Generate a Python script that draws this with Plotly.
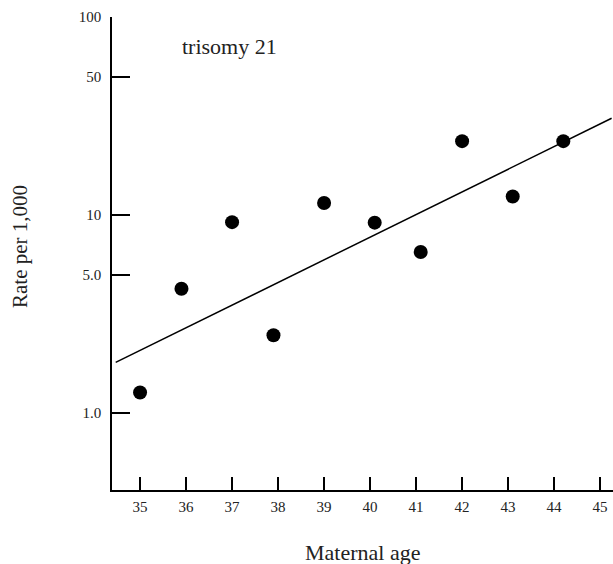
import plotly.graph_objects as go

# Data
age = [35.0, 35.9, 37.0, 37.9, 39.0, 40.1, 41.1, 42.0, 43.1, 44.2]
rate = [1.27, 4.24, 9.2, 2.47, 11.5, 9.15, 6.5, 23.6, 12.4, 23.6]
fit_age = [34.47, 45.25]
fit_rate = [1.80, 30.8]
x_ticks = [35, 36, 37, 38, 39, 40, 41, 42, 43, 44, 45]
y_ticks = [1, 5, 10, 50, 100]
y_tick_text = ["1.0", "5.0", "10", "50", "100"]

FONT = "Liberation Serif, Times New Roman, serif"

fig = go.Figure()
fig.add_trace(go.Scatter(x=fit_age, y=fit_rate, mode="lines",
                         line=dict(color="black", width=1.5), showlegend=False,
                         cliponaxis=False))
fig.add_trace(go.Scatter(x=age, y=rate, mode="markers",
                         marker=dict(color="black", size=14), showlegend=False))

fig.update_layout(
    width=613, height=564,
    margin=dict(l=112, r=0, t=17, b=74),
    paper_bgcolor="white", plot_bgcolor="white",
    font=dict(family=FONT, color="black"),
    xaxis=dict(range=[34.39, 45.28], tickvals=x_ticks, ticks="inside", ticklen=13,
               tickwidth=1.5, tickcolor="black", showline=True, linecolor="black",
               linewidth=1.5, showgrid=False, zeroline=False, ticklabelstandoff=2,
               tickfont=dict(size=15, family=FONT, color="#222")),
    yaxis=dict(type="log", range=[-0.389, 2.0], tickvals=y_ticks, ticktext=y_tick_text,
               ticks="inside", ticklen=18, tickwidth=1.5, tickcolor="black",
               showline=True, linecolor="black", linewidth=1.5, showgrid=False,
               zeroline=False, ticklabelstandoff=6,
               tickfont=dict(size=15, family=FONT, color="#222")),
    annotations=[
        dict(text="trisomy 21", xref="paper", yref="paper", x=(180 - 112) / 501,
             y=(490 - 46) / 473, xanchor="left", yanchor="middle", showarrow=False,
             font=dict(size=22, family=FONT, color="#222")),
        dict(text="Rate per 1,000", xref="paper", yref="paper", x=(20 - 112) / 501,
             y=(490 - 247) / 473, xanchor="center", yanchor="middle", textangle=-90,
             showarrow=False, font=dict(size=21, family=FONT, color="#222")),
        dict(text="Maternal age", xref="paper", yref="paper", x=(362 - 112) / 501,
             y=-(552 - 490) / 473, xanchor="center", yanchor="middle",
             showarrow=False, font=dict(size=22, family=FONT, color="#222")),
    ],
)

fig.write_html("out.html")
